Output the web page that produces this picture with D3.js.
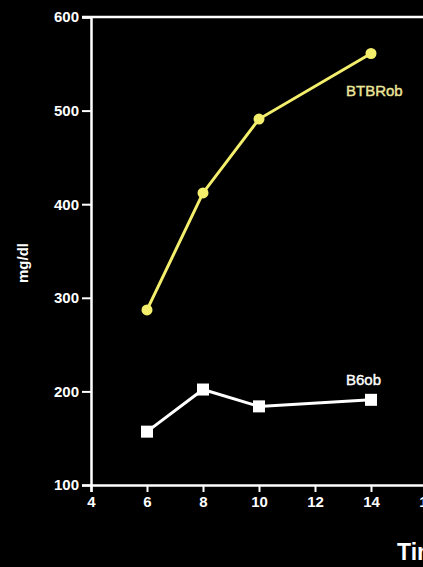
<!DOCTYPE html>
<html>
<head>
<meta charset="utf-8">
<script src="https://cdn.jsdelivr.net/npm/d3@7"></script>
<style>
  html, body { margin: 0; padding: 0; background: #000; overflow: hidden; }
  text { font-family: "Liberation Sans", Arial, sans-serif; font-weight: bold; }
</style>
</head>
<body>
<script>
// weeks of age
const weeks = [6, 8, 10, 14];
// plasma glucose, mg/dl
const btbrOb = [287, 412, 491, 561];
const b6Ob = [157, 202, 184, 191];
const xTicks = [4, 6, 8, 10, 12, 14, 16];
const yTicks = [100, 200, 300, 400, 500, 600];

const width = 423, height = 567;
const svg = d3.select("body").append("svg").attr("width", width).attr("height", height);

const x = d3.scaleLinear().domain([4, 16]).range([91, 427]);
const y = d3.scaleLinear().domain([100, 600]).range([485, 17]);

// frame top edge
svg.append("line")
    .attr("x1", 82).attr("x2", width)
    .attr("y1", y(600)).attr("y2", y(600))
    .attr("stroke", "#fff").attr("stroke-width", 2.5);

const yAxis = svg.append("g")
    .attr("transform", "translate(" + x(4) + ",0)")
    .call(d3.axisLeft(y).tickValues(yTicks).tickSize(9).tickPadding(3));

const xAxis = svg.append("g")
    .attr("transform", "translate(0," + y(100) + ")")
    .call(d3.axisBottom(x).tickValues(xTicks).tickSize(7).tickPadding(4));

[yAxis, xAxis].forEach((g) => {
    g.select(".domain").attr("stroke", "#fff").attr("stroke-width", 2.5);
    g.selectAll(".tick line").attr("stroke", "#fff").attr("stroke-width", 2);
    g.selectAll(".tick text").attr("fill", "#fff").style("font-size", "15px");
});

// y axis label
svg.append("text")
    .attr("transform", "translate(28,263) rotate(-90)")
    .attr("text-anchor", "middle")
    .attr("fill", "#fff")
    .style("font-size", "15px")
    .text("mg/dl");

// x axis label, runs off the right edge
svg.append("text")
    .attr("x", 397).attr("y", 560)
    .attr("fill", "#fff")
    .style("font-size", "23px")
    .text("Time (weeks)");

const line = d3.line()
    .x((d, i) => x(weeks[i]))
    .y((d) => y(d));

// BTBR ob series
svg.append("path")
    .datum(btbrOb)
    .attr("d", line)
    .attr("fill", "none")
    .attr("stroke", "#f3ee6c")
    .attr("stroke-width", 3);

svg.selectAll(".btbr")
    .data(btbrOb)
    .enter()
    .append("circle")
    .attr("class", "btbr")
    .attr("cx", (d, i) => x(weeks[i]))
    .attr("cy", (d) => y(d))
    .attr("r", 5.5)
    .attr("fill", "#f3ee6c");

// B6 ob series
svg.append("path")
    .datum(b6Ob)
    .attr("d", line)
    .attr("fill", "none")
    .attr("stroke", "#fff")
    .attr("stroke-width", 3);

const sq = 12;
svg.selectAll(".b6")
    .data(b6Ob)
    .enter()
    .append("rect")
    .attr("class", "b6")
    .attr("x", (d, i) => x(weeks[i]) - sq / 2)
    .attr("y", (d) => y(d) - sq / 2)
    .attr("width", sq)
    .attr("height", sq)
    .attr("fill", "#fff");

// series labels
svg.append("text")
    .attr("x", x(14) - 25).attr("y", y(btbrOb[3]) + 42)
    .attr("fill", "#ece79a")
    .style("font-size", "15px")
    .style("font-weight", "normal")
    .style("stroke", "#ece79a").style("stroke-width", 0.4)
    .text("BTBRob");

svg.append("text")
    .attr("x", x(14) - 25).attr("y", y(b6Ob[3]) - 15)
    .attr("fill", "#fff")
    .style("font-size", "15px")
    .style("font-weight", "normal")
    .style("stroke", "#fff").style("stroke-width", 0.4)
    .text("B6ob");
</script>
</body>
</html>
